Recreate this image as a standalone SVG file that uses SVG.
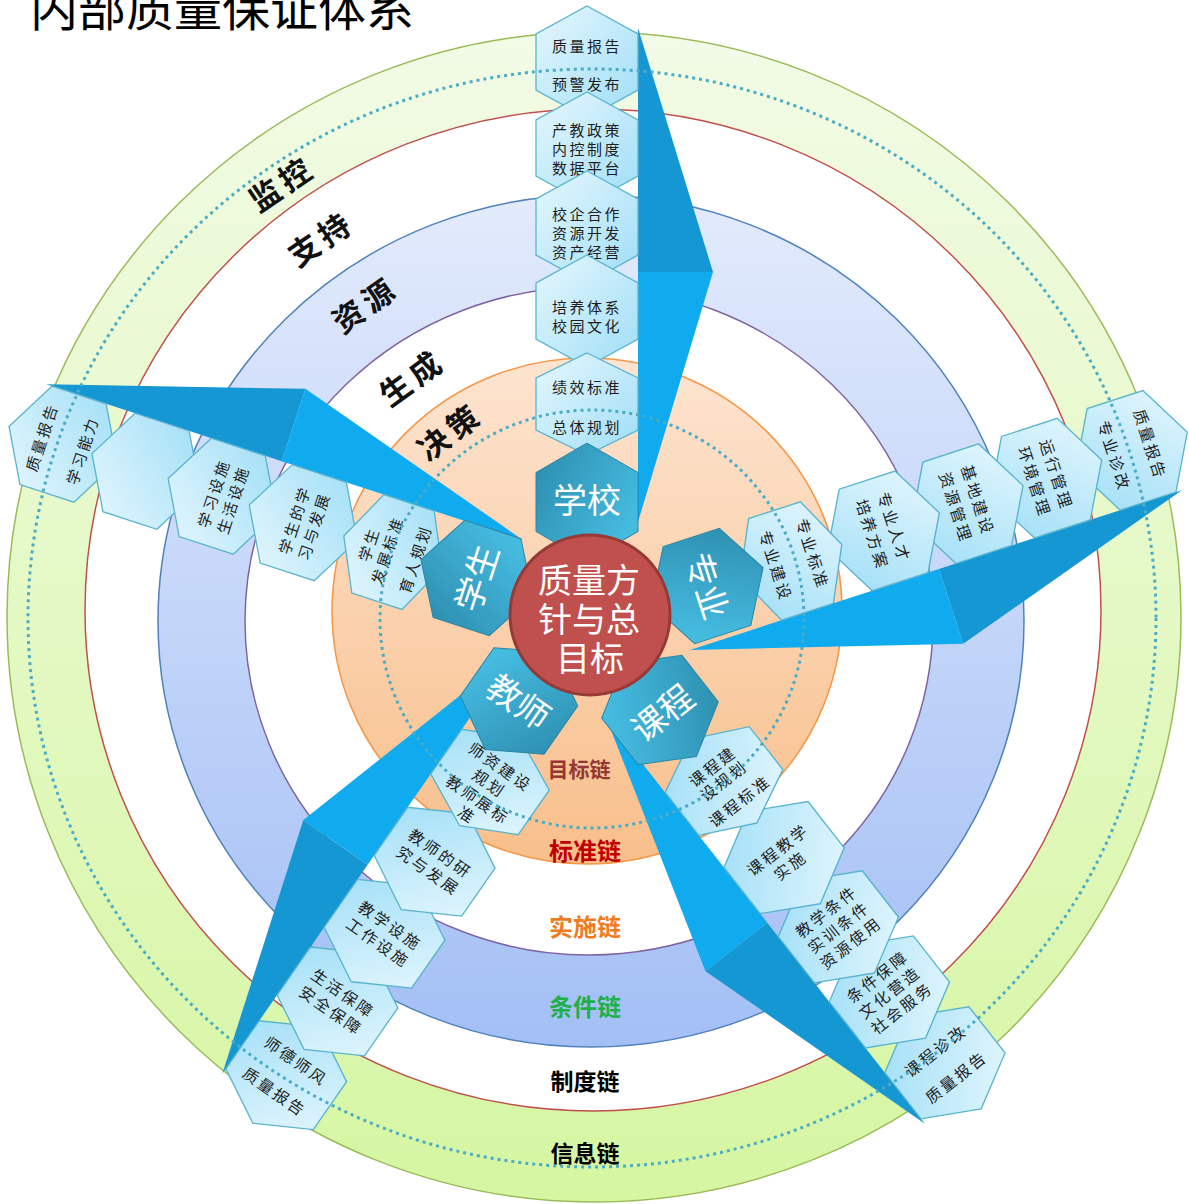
<svg xmlns="http://www.w3.org/2000/svg" width="1189" height="1204" viewBox="0 0 1189 1204">
<defs>
  <linearGradient id="gGreen" x1="0" y1="0" x2="0" y2="1">
    <stop offset="0" stop-color="#f2fbe6"/>
    <stop offset="1" stop-color="#d6f6a2"/>
  </linearGradient>
  <linearGradient id="gBlue" x1="0" y1="0" x2="0" y2="1">
    <stop offset="0" stop-color="#e3ebfc"/>
    <stop offset="1" stop-color="#a3bff5"/>
  </linearGradient>
  <linearGradient id="gOrange" x1="0" y1="0" x2="0" y2="1">
    <stop offset="0" stop-color="#fde4d0"/>
    <stop offset="1" stop-color="#f8bf8b"/>
  </linearGradient>
  <linearGradient id="gHex" x1="0" y1="0" x2="1" y2="1">
    <stop offset="0" stop-color="#e6f7fe"/>
    <stop offset="1" stop-color="#9fdef6"/>
  </linearGradient>
  <linearGradient id="gDark" x1="0" y1="0" x2="1" y2="0.6">
    <stop offset="0" stop-color="#2c8cad"/>
    <stop offset="1" stop-color="#45bbe0"/>
  </linearGradient>
  <polygon id="hx" points="0,-56 51,-28 51,28 0,56 -51,28 -51,-28"/>
  <polygon id="hx1" points="0,-51 51,-26 51,26 0,51 -51,26 -51,-26"/>
  <polygon id="hd" points="0,-59 51,-29.5 51,29.5 0,59 -51,29.5 -51,-29.5"/>
  <g id="kite">
    <polygon class="kd" points="51,-376 126,-132 51,-132"/>
    <polygon class="kl" points="51,-132 126,-132 51,118"/>
  </g>
</defs>
<style>
  .hx { fill: url(#gHex); stroke: #5ab4cf; stroke-width: 1.3; }
  .hd { fill: url(#gDark); stroke: #2a86a6; stroke-width: 1; }
  .kd { fill: #1597d4; }
  .kl { fill: #10abee; }
  .t { font-family: "Noto Sans CJK SC", sans-serif; font-size: 15px; fill: #1e1e1e; text-anchor: middle; dominant-baseline: central; letter-spacing: 2.5px; }
  .dt { font-family: "Noto Sans CJK SC", sans-serif; font-size: 34px; fill: #ffffff; text-anchor: middle; dominant-baseline: central; }
  .rl { font-family: "Noto Sans CJK SC", sans-serif; font-size: 31px; font-weight: 700; fill: #111; text-anchor: middle; dominant-baseline: central; letter-spacing: 5px; }
  .cl { font-family: "Noto Sans CJK SC", sans-serif; font-weight: 700; text-anchor: middle; dominant-baseline: central; }
  .dot { fill: none; stroke: #4bacc6; stroke-width: 3; stroke-dasharray: 3 4; }
</style>
<rect width="1189" height="1204" fill="#ffffff"/>

<g id="rings">
  <ellipse cx="594" cy="617" rx="587" ry="585" fill="url(#gGreen)" stroke="#9bbb59" stroke-width="1.5"/>
  <ellipse cx="593" cy="610" rx="508" ry="501" fill="#ffffff" stroke="#c0504d" stroke-width="1.5"/>
  <ellipse cx="591" cy="621" rx="433" ry="426" fill="url(#gBlue)" stroke="#4f81bd" stroke-width="1.5"/>
  <ellipse cx="589" cy="621" rx="344" ry="334" fill="#ffffff" stroke="#8064a2" stroke-width="1.5"/>
  <ellipse cx="587" cy="611" rx="255" ry="253" fill="url(#gOrange)" stroke="#f79646" stroke-width="1.5"/>
</g>

<text x="30" y="26" font-family="'Noto Sans CJK SC', sans-serif" font-size="48" fill="#000">内部质量保证体系</text>

<g id="ring-labels">
  <text class="rl" transform="translate(281,182) rotate(-34)">监控</text>
  <text class="rl" transform="translate(320,237) rotate(-34)">支持</text>
  <text class="rl" transform="translate(364,303) rotate(-35)">资源</text>
  <text class="rl" transform="translate(411,376) rotate(-36)">生成</text>
  <text class="rl" transform="translate(449,430) rotate(-37)">决策</text>
  <text class="cl" x="579" y="768" font-size="21" fill="#953735" font-weight="400">目标链</text>
  <text class="cl" x="585" y="849" font-size="24" fill="#c00000">标准链</text>
  <text class="cl" x="585" y="925" font-size="24" fill="#f07b21">实施链</text>
  <text class="cl" x="585" y="1005" font-size="24" fill="#1fb04b">条件链</text>
  <text class="cl" x="585" y="1080" font-size="23" fill="#000">制度链</text>
  <text class="cl" x="585" y="1152" font-size="23" fill="#000">信息链</text>
</g>

<g id="connectors">
  <g transform="translate(587,404)"><use href="#kite"/></g>
  <g transform="translate(791,561) rotate(72) scale(1.047)"><use href="#kite"/></g>
  <g transform="translate(724,781) rotate(141.9) scale(1.047)"><use href="#kite"/></g>
  <g transform="translate(490,782) rotate(214.8) scale(1.044)"><use href="#kite"/></g>
  <g transform="translate(393,552) rotate(-71.9) scale(1.015)"><use href="#kite"/></g>
</g>

<g id="spoke-school" transform="translate(587,404)">
  <g id="school-5" transform="translate(0,-342)"><use href="#hx" class="hx"/><text class="t" y="-17">质量报告</text><text class="t" y="21">预警发布</text></g>
  <g id="school-4" transform="translate(0,-256)"><use href="#hx" class="hx"/><text class="t" y="-19">产教政策</text><text class="t" y="0">内控制度</text><text class="t" y="19">数据平台</text></g>
  <g id="school-3" transform="translate(0,-177)"><use href="#hx" class="hx"/><text class="t" y="-14">校企合作</text><text class="t" y="5">资源开发</text><text class="t" y="24">资产经营</text></g>
  <g id="school-2" transform="translate(0,-93)"><use href="#hx" class="hx"/><text class="t" y="-5">培养体系</text><text class="t" y="14">校园文化</text></g>
  <g id="school-1"><use href="#hx1" class="hx"/><text class="t" y="-18">绩效标准</text><text class="t" y="22">总体规划</text></g>
</g>

<g id="spoke-major" transform="translate(791,561) rotate(72) scale(1.047)">
  <g id="major-5" transform="translate(0,-342)"><use href="#hx" class="hx"/><text class="t" y="-19">质量报告</text><text class="t" y="17">专业诊改</text></g>
  <g id="major-4" transform="translate(0,-256)"><use href="#hx" class="hx"/><text class="t" y="-11">运行管理</text><text class="t" y="11">环境管理</text></g>
  <g id="major-3" transform="translate(0,-177)"><use href="#hx" class="hx"/><text class="t" y="-11">基地建设</text><text class="t" y="11">资源管理</text></g>
  <g id="major-2" transform="translate(0,-93)"><use href="#hx" class="hx"/><text class="t" y="-11">专业人才</text><text class="t" y="11">培养方案</text></g>
  <g id="major-1"><use href="#hx1" class="hx"/><text class="t" y="-22">专业标准</text><text class="t" y="15">专业建设</text></g>
</g>

<g id="spoke-course" transform="translate(724,781) rotate(141.9) scale(1.047)">
  <g id="course-5" transform="translate(0,-342)"><use href="#hx" class="hx"/><g transform="rotate(180)"><text class="t" y="-15">课程诊改</text><text class="t" y="17">质量报告</text></g></g>
  <g id="course-4" transform="translate(0,-256)"><use href="#hx" class="hx"/><g transform="rotate(180)"><text class="t" y="-19">条件保障</text><text class="t" y="0">文化营造</text><text class="t" y="19">社会服务</text></g></g>
  <g id="course-3" transform="translate(0,-177)"><use href="#hx" class="hx"/><g transform="rotate(180)"><text class="t" y="-19">教学条件</text><text class="t" y="0">实训条件</text><text class="t" y="19">资源使用</text></g></g>
  <g id="course-2" transform="translate(0,-93)"><use href="#hx" class="hx"/><g transform="rotate(180)"><text class="t" y="-10">课程教学</text><text class="t" y="9">实施</text></g></g>
  <g id="course-1"><use href="#hx1" class="hx"/><g transform="rotate(180)"><text class="t" y="-18">课程建</text><text class="t" y="-1">设规划</text><text class="t" y="24">课程标准</text></g></g>
</g>

<g id="spoke-teacher" transform="translate(490,782) rotate(214.8) scale(1.044)">
  <g id="teacher-5" transform="translate(0,-342)"><use href="#hx" class="hx"/><g transform="rotate(180)"><text class="t" y="-17">师德师风</text><text class="t" y="19">质量报告</text></g></g>
  <g id="teacher-4" transform="translate(0,-256)"><use href="#hx" class="hx"/><g transform="rotate(180)"><text class="t" y="-10">生活保障</text><text class="t" y="10">安全保障</text></g></g>
  <g id="teacher-3" transform="translate(0,-177)"><use href="#hx" class="hx"/><g transform="rotate(180)"><text class="t" y="-10">教学设施</text><text class="t" y="10">工作设施</text></g></g>
  <g id="teacher-2" transform="translate(0,-93)"><use href="#hx" class="hx"/><g transform="rotate(180)"><text class="t" y="-10">教师的研</text><text class="t" y="10">究与发展</text></g></g>
  <g id="teacher-1"><use href="#hx1" class="hx"/><g transform="rotate(180)"><text class="t" y="-18">师资建设</text><text class="t" y="1">规划</text><text class="t" y="20">教师展标</text><text class="t" y="38">准</text></g></g>
</g>

<g id="spoke-student" transform="translate(393,552) rotate(-71.9) scale(1.015)">
  <g id="student-5" transform="translate(0,-342)"><use href="#hx" class="hx"/><text class="t" y="-23">质量报告</text><text class="t" y="19">学习能力</text></g>
  <g id="student-4" transform="translate(0,-256)"><use href="#hx" class="hx"/></g>
  <g id="student-3" transform="translate(0,-177)"><use href="#hx" class="hx"/><text class="t" y="-10">学习设施</text><text class="t" y="10">生活设施</text></g>
  <g id="student-2" transform="translate(0,-93)"><use href="#hx" class="hx"/><text class="t" y="-10">学生的学</text><text class="t" y="10">习与发展</text></g>
  <g id="student-1"><use href="#hx1" class="hx"/><text class="t" y="-26">学生</text><text class="t" y="-7">发展标准</text><text class="t" y="22">育人规划</text></g>
</g>

<g id="dotted-rings">
  <ellipse class="dot" cx="592" cy="618" rx="564" ry="549"/>
  <ellipse class="dot" cx="592" cy="619" rx="212" ry="209"/>
</g>

<g id="hub-school" transform="translate(587,502)"><use href="#hd" class="hd"/><text class="dt" y="-4">学校</text></g>
<g id="hub-major" transform="translate(707,586) rotate(72)"><use href="#hd" class="hd"/><text class="dt" y="-2">专业</text></g>
<g id="hub-course" transform="translate(660,710) rotate(141.9)"><use href="#hd" class="hd"/><g transform="rotate(180)"><text class="dt" y="2">课程</text></g></g>
<g id="hub-teacher" transform="translate(519,701) rotate(214.8)"><use href="#hd" class="hd"/><g transform="rotate(180)"><text class="dt" y="-1">教师</text></g></g>
<g id="hub-student" transform="translate(477,578) rotate(-71.9)"><use href="#hd" class="hd"/><text class="dt" y="-2">学生</text></g>

<g id="center">
  <circle cx="590" cy="615" r="80" fill="#c0504d" stroke="#953a37" stroke-width="3"/>
  <text class="dt" x="589" y="578" font-size="30">质量方</text>
  <text class="dt" x="589" y="617" font-size="30">针与总</text>
  <text class="dt" x="590" y="656" font-size="30">目标</text>
</g>
</svg>
